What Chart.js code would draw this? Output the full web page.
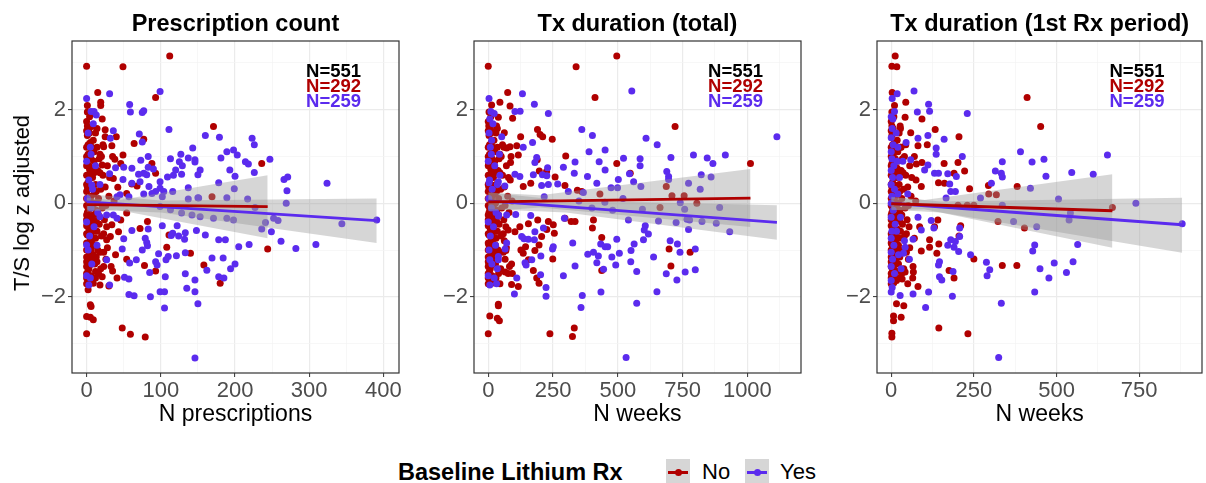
<!DOCTYPE html>
<html>
<head>
<meta charset="utf-8">
<script src="https://cdn.jsdelivr.net/npm/chart.js@4.4.1/dist/chart.umd.min.js"></script>
<style>
  body { margin: 0; background: #fff; width: 1206px; height: 483px; position: relative; overflow: hidden;
         font-family: "Liberation Sans", Arial, sans-serif; }
  canvas { position: absolute; top: 0; }
  .t { position: absolute; white-space: nowrap; transform: translate(-50%, -50%); color: #000; }
  .title { font-weight: bold; font-size: 23.5px; top: 23px; }
  .xt { font-size: 23px; top: 413px; }
  .yt { font-size: 22px; left: 22px; top: 203px; transform: translate(-50%, -50%) rotate(-90deg); }
  .lg { position: absolute; font-size: 22px; top: 472px; transform: translateY(-50%); white-space: nowrap; }
  .key { position: absolute; top: 459px; width: 24px; height: 26px; background: #d6d6d6; }
  .key i { position: absolute; left: 2px; right: 2px; top: 11.5px; height: 3px; }
  .key b { position: absolute; left: 8.5px; top: 9.5px; width: 7px; height: 7px; border-radius: 50%; }
</style>
</head>
<body>
<canvas id="c1" width="405" height="430" style="left:0px"></canvas>
<canvas id="c2" width="386" height="430" style="left:420px"></canvas>
<canvas id="c3" width="383" height="430" style="left:823px"></canvas>

<div class="t title" style="left:235.5px">Prescription count</div>
<div class="t title" style="left:637.4px">Tx duration (total)</div>
<div class="t title" style="left:1039.7px">Tx duration (1st Rx period)</div>
<div class="t yt">T/S log z adjusted</div>
<div class="t xt" style="left:235.5px">N prescriptions</div>
<div class="t xt" style="left:637.4px">N weeks</div>
<div class="t xt" style="left:1039.7px">N weeks</div>

<div class="lg" style="left:398px;font-weight:bold;font-size:23.5px">Baseline Lithium Rx</div>
<div class="key" style="left:666px"><i style="background:#b00000"></i><b style="background:#b00000"></b></div>
<div class="lg" style="left:702px">No</div>
<div class="key" style="left:745px"><i style="background:#5b2bee"></i><b style="background:#5b2bee"></b></div>
<div class="lg" style="left:780px">Yes</div>

<script>
// ---- data: [x, y] pairs, y = T/S log z adjusted ----
// Panel 1: N prescriptions
const p1No = [
  [0,2.93],[49,2.92],[112,3.15],[15,2.37],[19,2.16],[19,2.09],[1,2.09],[93,2.26],[21,1.80],[8,1.92],[7,1.64],
  [25,1.57],[25,1.42],[77,1.37],[64,1.28],[40,1.42],[34,1.23],[171,1.64],[23,1.21],[38,0.94],[49,1.03],[46,0.85],
  [18,1.05],[21,0.82],[36,0.53],[88,0.85],[93,0.64],[68,0.37],[61,0.41],[42,0.34],[54,0.21],[169,0.14],
  [5,-2.17],[6,-2.21],[0,-2.42],[5,-2.44],[9,-2.49],[0,-2.79],[48,-2.67],[59,-2.80],[79,-2.86],[18,-1.75],[3,-1.71],
  [9,-1.71],[30,-1.77],[35,-1.45],[41,-1.60],[54,-1.20],[78,-1.33],[93,-1.45],[108,-0.94],[140,-1.07],[158,-1.32],
  [180,-1.71],[111,-0.68],[72,-0.54],[82,-0.39],[54,-0.21],[46,-0.36],[43,-0.61],[34,-0.46],[27,-0.78],[39,-1.10],
  [23,-1.35],[14,-1.25],[12,-1.46],[21,-1.57],[32,-0.71],[236,0.85],[244,-0.98],
  [0,1.75],[3,1.6],[1,1.45],[5,1.3],[0,1.2],[2,1.05],[6,0.95],[1,0.85],[4,0.72],[0,0.6],[8,0.55],[2,0.45],[5,0.33],
  [0,0.25],[10,0.2],[3,0.1],[7,0.02],[0,-0.05],[4,-0.12],[1,-0.2],[9,-0.25],[2,-0.32],[6,-0.4],[0,-0.48],[3,-0.55],
  [11,-0.6],[1,-0.68],[5,-0.75],[0,-0.85],[8,-0.9],[2,-0.98],[4,-1.08],[0,-1.15],[7,-1.22],[1,-1.3],[3,-1.4],[0,-1.5],
  [6,-1.55],[2,-1.62],[0,-1.72],[12,1.5],[14,1.2],[10,0.9],[15,0.7],[12,0.4],[16,0.1],[13,-0.15],[17,-0.45],[12,-0.75],
  [15,-1.0],[11,-1.3],[16,-1.5],[20,1.0],[22,0.6],[19,0.3],[21,-0.1],[24,-0.35],[20,-0.7],[23,-1.05],[19,-1.4],
  [28,0.8],[27,-0.5],[30,0.15],[26,-1.2],[1,1.95],[4,1.85],[6,1.15],[9,1.35],[7,0.38],[5,-0.28],[9,-0.55],[6,-1.0],
  [4,-1.33],[8,-1.65],[3,0.8],[11,0.0],[14,-0.6],[2,-1.85],[0,1.0],[0,0.4],[0,-0.25],[0,-0.65],[0,-1.0],[0,-1.35],
  [10,1.1],[8,-0.05],[13,-1.15],[17,0.95],
  [1,1.65],[4,1.5],[2,1.25],[7,1.2],[3,1.0],[5,0.6],[1,0.35],[6,0.15],[2,-0.1],[8,-0.35],[3,-0.45],[6,-0.65],
  [1,-0.88],[5,-1.2],[2,-1.45],[4,-1.7],[9,-1.1],[10,0.65],[11,-0.9],[13,0.25],[14,1.6],[16,-0.25],[18,-1.05],
  [18,0.65],[22,1.25],[25,0.35],[23,-0.65],[26,-0.05],[28,-0.95],[31,0.55],[33,-1.35],[35,1.0],[37,0.05],[12,-1.6],
  [9,0.75],[7,-0.78],[13,-0.38],[0,1.55],[0,0.8],[0,0.1],[0,-0.35],[0,-1.25],[0,-1.6]
];
const p1Yes = [
  [0,2.24],[31,2.34],[99,2.39],[58,2.11],[59,1.95],[75,1.94],[77,1.98],[6,1.96],[10,1.96],[13,1.89],[111,1.58],
  [36,1.55],[32,1.39],[71,1.48],[75,1.31],[160,1.45],[179,1.41],[143,1.18],[127,1.05],[137,0.97],[146,0.93],[146,0.88],
  [189,1.10],[181,0.97],[113,0.95],[83,1.00],[73,0.92],[61,0.75],[50,0.77],[39,0.76],[90,0.73],[83,0.77],[125,0.89],
  [129,0.80],[120,0.71],[109,0.56],[99,0.46],[117,0.60],[150,0.61],[153,0.71],[128,0.62],[193,0.71],[178,0.44],
  [199,0.31],[137,0.33],[81,0.61],[77,0.64],[70,0.62],[72,0.46],[61,0.43],[49,0.51],[31,0.63],[7,0.39],[99,0.32],
  [84,0.36],[93,0.25],[104,0.25],[116,0.25],[150,0.12],[88,0.21],[102,0.14],[77,0.20],[45,0.18],[57,0.14],[137,0.09],
  [151,0.11],[189,0.12],[41,0.14],
  [18,-0.29],[27,-0.25],[36,-0.25],[41,-0.32],[61,-0.58],[83,-0.55],[102,-0.48],[122,-0.48],[50,-0.76],[79,-0.75],
  [81,-0.84],[82,-0.91],[75,-1.00],[67,-1.21],[58,-1.28],[48,-0.98],[27,-1.21],[5,-1.60],[31,-1.75],[51,-1.58],
  [57,-1.62],[85,-1.48],[97,-1.08],[93,-1.25],[107,-1.21],[110,-1.14],[95,-1.32],[106,-1.57],[99,-1.89],[105,-1.89],
  [57,-1.95],[64,-1.98],[86,-2.00],[105,-2.24],[114,-0.69],[116,-0.64],[124,-0.70],[133,-0.63],[132,-0.77],[148,-0.58],
  [160,-0.68],[121,-1.12],[133,-1.06],[133,-1.51],[135,-1.82],[146,-1.64],[146,-1.89],[150,-2.15],[162,-1.43],
  [169,-1.17],[178,-0.78],[187,-0.78],[184,-1.17],[178,-1.57],[185,-1.60],[146,-3.31],[99,-0.07],[113,-0.14],
  [128,-0.21],[142,-0.25],[153,-0.29],[171,-0.32],[189,-0.32],[0,-0.89],
  [223,1.39],[226,1.25],[198,1.14],[203,1.03],[214,0.89],[218,0.84],[247,0.94],[226,0.66],[200,0.58],[266,0.51],
  [271,0.56],[270,0.27],[324,0.43],[269,0.00],[217,0.09],[227,-0.09],[344,-0.44],[391,-0.36],[252,-0.32],[258,-0.37],
  [241,-0.41],[236,-0.55],[249,-0.61],[262,-0.81],[282,-0.97],[309,-0.88],[205,-0.93],[219,-0.88],[200,-1.30],
  [194,-1.40],[198,-0.36],
  [2,1.5],[5,1.2],[0,0.9],[3,0.5],[8,0.3],[1,0.1],[6,-0.1],[0,-0.4],[4,-0.7],[10,-0.5],[2,-1.0],[7,-1.3],[0,-1.55],
  [12,0.8],[15,-0.2],[9,1.7],[3,-1.75],[14,-0.9],[18,0.4],[6,1.05]
];

// Panel 2: N weeks (total)
const p2No = [
  [0,2.93],[339,2.92],[496,3.15],[412,2.26],[75,2.37],[45,2.16],[84,2.08],[94,1.82],[13,2.10],[39,1.84],[10,1.55],
  [32,1.65],[62,1.51],[190,1.58],[200,1.47],[210,1.42],[125,1.42],[247,1.37],[299,1.01],[496,0.85],[84,1.21],
  [110,1.23],[71,1.18],[45,1.05],[116,1.03],[86,0.87],[189,0.93],[197,0.69],[225,0.68],[258,0.56],[296,0.38],
  [344,0.28],[164,0.43],[135,0.36],[431,0.20],[361,0.25],[155,-0.44],[191,-0.36],[232,-0.39],[251,-0.46],[226,-0.56],
  [255,-0.64],[206,-0.71],[196,-0.89],[180,-1.01],[144,-0.93],[135,-1.07],[155,-1.21],[174,-1.44],[187,-1.60],
  [196,-1.71],[249,-1.19],[320,-0.39],[335,-0.39],[296,-0.32],[406,-0.36],[402,-0.53],[438,-0.73],[438,-1.44],
  [93,-1.50],[41,-1.42],[65,-1.47],[77,-1.50],[13,-1.71],[45,-1.72],[90,-1.74],[116,-1.78],[39,-2.16],[39,-2.19],
  [6,-2.41],[35,-2.46],[43,-2.51],[0,-2.79],[238,-2.79],[332,-2.67],[325,-2.85],[68,-1.01],[126,-1.00],[103,-0.61],
  [122,-0.50],[77,-0.57],
  [721,1.64],[1012,0.85],[548,0.64],[687,0.36],[709,0.16],[756,0.16],[805,0.00],[663,-0.09],[698,-0.98],[779,-1.05],
  [705,-1.34],
  [0,1.75],[8,1.6],[3,1.45],[12,1.3],[0,1.2],[5,1.05],[15,0.95],[2,0.85],[10,0.72],[0,0.6],[20,0.55],[5,0.45],
  [12,0.33],[0,0.25],[25,0.2],[8,0.1],[18,0.02],[0,-0.05],[10,-0.12],[3,-0.2],[22,-0.25],[5,-0.32],[15,-0.4],
  [0,-0.48],[8,-0.55],[28,-0.6],[3,-0.68],[12,-0.75],[0,-0.85],[20,-0.9],[5,-0.98],[10,-1.08],[0,-1.15],[18,-1.22],
  [3,-1.3],[8,-1.4],[0,-1.5],[15,-1.55],[5,-1.62],[0,-1.72],[30,1.5],[35,1.2],[25,0.9],[38,0.7],[30,0.4],[40,0.1],
  [33,-0.15],[42,-0.45],[30,-0.75],[38,-1.0],[28,-1.3],[40,-1.5],[50,1.0],[55,0.6],[48,0.3],[52,-0.1],[60,-0.35],
  [50,-0.7],[58,-1.05],[48,-1.4],[70,0.8],[68,-0.5],[75,0.15],[65,-1.2],[3,1.95],[10,1.85],[15,1.15],[22,1.35],
  [18,0.38],[12,-0.28],[22,-0.55],[15,-1.0],[10,-1.33],[20,-1.65],[8,0.8],[28,0.0],[35,-0.6],[0,1.0],[0,0.4],
  [0,-0.25],[0,-0.65],[0,-1.0],[0,-1.35],[25,1.1],[20,-0.05],[32,-1.15],[42,0.95],[60,1.2],[62,-0.8],[80,-0.2],
  [85,0.5],[90,-1.3],
  [2,1.65],[10,1.5],[5,1.25],[18,1.2],[8,1.0],[12,0.6],[2,0.35],[15,0.15],[5,-0.1],[20,-0.35],[8,-0.45],[15,-0.65],
  [2,-0.88],[12,-1.2],[5,-1.45],[10,-1.7],[22,-1.1],[25,0.65],[28,-0.9],[32,0.25],[35,1.6],[40,-0.25],[45,-1.05],
  [45,0.65],[55,1.25],[62,0.35],[58,-0.65],[65,-0.05],[70,-0.95],[78,0.55],[82,-1.35],[88,1.0],[92,0.05],[30,-1.6],
  [22,0.75],[18,-0.78],[32,-0.38],[0,1.55],[0,0.8],[0,0.1],[0,-0.35],[0,-1.25],[0,-1.6]
];
const p2Yes = [
  [3,2.24],[132,2.34],[178,2.12],[232,1.92],[10,1.96],[23,1.92],[6,1.80],[103,1.96],[123,1.97],[554,2.40],[361,1.58],
  [402,1.45],[389,1.10],[451,1.14],[522,0.96],[43,1.05],[52,1.42],[13,1.35],[135,1.20],[171,1.30],[187,0.98],
  [180,0.87],[229,0.76],[290,0.77],[335,0.88],[332,0.64],[428,0.89],[451,0.71],[502,0.51],[545,0.63],[383,0.57],
  [419,0.43],[474,0.33],[499,0.33],[174,0.61],[209,0.61],[226,0.59],[268,0.41],[232,0.40],[206,0.38],[122,0.57],
  [103,0.62],[39,0.46],[64,0.37],[309,0.25],[367,0.23],[216,0.14],[39,-0.27],[71,-0.25],[106,-0.24],[164,-0.26],
  [294,-0.32],[213,-0.53],[180,-0.61],[129,-0.71],[138,-0.76],[155,-0.77],[178,-0.78],[71,-0.85],[65,-0.98],
  [39,-1.14],[39,-1.21],[142,-1.27],[146,-1.32],[168,-1.21],[203,-1.13],[251,-0.93],[248,-0.98],[326,-0.85],
  [335,-1.34],[384,-1.09],[406,-1.05],[425,-1.13],[434,-0.87],[451,-0.93],[461,-0.93],[496,-0.77],[506,-1.07],
  [477,-1.15],[419,-1.27],[492,-1.32],[445,-1.41],[551,-1.01],[550,-1.25],[290,-1.55],[202,-1.53],[110,-1.60],
  [23,-1.60],[32,-1.72],[223,-1.80],[223,-1.99],[101,-1.94],[363,-1.97],[435,-1.90],[358,-2.23],[532,-3.30],
  [6,-1.21],[3,0.44],[350,0.05],[400,-0.1],[450,0.02],[480,-0.15],[520,0.1],
  [1114,1.42],[609,1.39],[652,1.25],[705,0.98],[792,1.03],[845,0.97],[867,0.85],[915,1.03],[586,0.95],[586,0.80],
  [689,0.68],[696,0.57],[696,0.51],[822,0.61],[860,0.56],[589,0.36],[561,0.46],[773,0.43],[818,0.30],[893,-0.09],
  [741,0.01],[758,-0.13],[595,-0.13],[541,-0.36],[657,-0.38],[725,-0.41],[767,-0.34],[825,-0.39],[880,-0.43],
  [932,-0.61],[606,-0.48],[602,-0.57],[618,-0.66],[599,-0.78],[563,-0.87],[573,-1.46],[638,-1.15],[702,-0.80],
  [730,-0.87],[740,-1.05],[799,-0.98],[687,-1.51],[728,-1.64],[760,-1.47],[799,-1.42],[651,-1.89],[573,-2.14],
  [773,-0.56],[777,-0.36],
  [3,1.5],[8,1.2],[0,0.9],[5,0.5],[15,0.3],[2,0.1],[12,-0.1],[0,-0.4],[8,-0.7],[20,-0.5],[3,-1.0],[14,-1.3],
  [0,-1.55],[25,0.8],[30,-0.2],[18,1.7],[6,-1.75],[28,-0.9],[35,0.4],[12,1.05],[40,-0.25],[45,0.6],[35,-1.4]
];

// Panel 3: N weeks (1st Rx period)
const p3No = [
  [12,3.15],[2,2.93],[17,2.92],[3,2.37],[44,2.16],[10,2.09],[42,1.84],[93,1.80],[27,1.65],[59,1.51],[133,1.58],
  [205,1.42],[411,2.26],[109,1.25],[81,1.23],[30,1.20],[160,0.85],[202,0.87],[222,0.69],[93,0.87],[76,0.84],
  [190,0.64],[143,0.44],[161,0.43],[91,0.36],[237,0.31],[294,0.38],[318,0.18],[381,0.36],[295,0.20],[230,-0.04],
  [250,-0.04],[202,-0.04],[323,-0.39],[403,-0.53],[205,-0.70],[210,-0.48],[250,-1.19],[336,-1.33],[380,-1.33],
  [175,-1.44],[190,-1.60],[144,-2.67],[232,-2.79],[81,-1.78],[50,-1.72],[33,-1.62],[67,-1.47],[42,-1.47],[15,-1.45],
  [38,-2.19],[16,-2.15],[30,-2.44],[7,-2.41],[7,-2.51],[2,-2.78],[2,-2.86],[91,-1.02],[138,-1.07],[116,-0.94],
  [144,-0.87],[116,-0.78],[86,-0.50],[131,-0.50],[141,-0.36],[452,1.64],[669,-0.09],
  [0,1.75],[6,1.6],[2,1.45],[10,1.3],[0,1.2],[4,1.05],[12,0.95],[2,0.85],[8,0.72],[0,0.6],[16,0.55],[4,0.45],
  [10,0.33],[0,0.25],[20,0.2],[6,0.1],[14,0.02],[0,-0.05],[8,-0.12],[2,-0.2],[18,-0.25],[4,-0.32],[12,-0.4],
  [0,-0.48],[6,-0.55],[22,-0.6],[2,-0.68],[10,-0.75],[0,-0.85],[16,-0.9],[4,-0.98],[8,-1.08],[0,-1.15],[14,-1.22],
  [2,-1.3],[6,-1.4],[0,-1.5],[12,-1.55],[4,-1.62],[0,-1.72],[24,1.5],[28,1.2],[20,0.9],[30,0.7],[24,0.4],[32,0.1],
  [26,-0.15],[34,-0.45],[24,-0.75],[30,-1.0],[22,-1.3],[32,-1.5],[40,1.0],[44,0.6],[38,0.3],[42,-0.1],[48,-0.35],
  [40,-0.7],[46,-1.05],[38,-1.4],[56,0.8],[54,-0.5],[60,0.15],[52,-1.2],[2,1.95],[8,1.85],[12,1.15],[18,1.35],
  [14,0.38],[10,-0.28],[18,-0.55],[12,-1.0],[8,-1.33],[16,-1.65],[6,0.8],[22,0.0],[28,-0.6],[0,1.0],[0,0.4],
  [0,-0.25],[0,-0.65],[0,-1.0],[0,-1.35],[20,1.1],[16,-0.05],[26,-1.15],[34,0.95],[70,-0.75],[75,0.5],[65,-1.6],
  [2,1.65],[8,1.5],[4,1.25],[14,1.2],[6,1.0],[10,0.6],[2,0.35],[12,0.15],[4,-0.1],[16,-0.35],[6,-0.45],[12,-0.65],
  [2,-0.88],[10,-1.2],[4,-1.45],[8,-1.7],[18,-1.1],[20,0.65],[22,-0.9],[26,0.25],[28,1.6],[32,-0.25],[36,-1.05],
  [36,0.65],[44,1.25],[50,0.35],[46,-0.65],[52,-0.05],[56,-0.95],[62,0.55],[66,-1.35],[70,1.0],[74,0.05],[24,-1.6],
  [18,0.75],[14,-0.78],[26,-0.38],[0,1.55],[0,0.8],[0,0.1],[0,-0.35],[0,-1.25],[0,-1.6]
];
const p3Yes = [
  [69,2.40],[3,2.24],[18,2.34],[113,2.12],[116,1.97],[79,1.95],[230,1.92],[5,1.80],[10,1.96],[160,1.37],[111,1.45],
  [81,1.39],[136,1.18],[136,1.05],[215,1.00],[59,0.93],[111,0.82],[101,0.71],[131,0.64],[143,0.64],[171,0.63],
  [197,0.57],[177,0.41],[180,0.25],[194,0.25],[166,0.11],[391,1.10],[426,0.88],[336,0.89],[315,0.69],[333,0.64],
  [336,0.56],[303,0.43],[270,0.11],[336,-0.04],[370,-0.39],[421,0.32],[81,-0.30],[121,-0.37],[129,-0.53],[91,-0.57],
  [66,-0.77],[207,-0.53],[207,-0.71],[194,-0.82],[180,-0.78],[171,-0.90],[190,-0.94],[204,-1.03],[240,-1.10],
  [288,-1.26],[298,-1.42],[290,-1.55],[146,-1.25],[143,-1.32],[146,-1.57],[153,-1.64],[187,-1.46],[113,-1.90],
  [66,-1.94],[27,-1.97],[104,-2.23],[185,-1.99],[333,-2.14],[325,-3.30],[37,-1.07],[42,-0.94],[434,-0.89],
  [428,-1.02],[434,-1.90],
  [462,0.94],[468,0.58],[546,0.66],[611,0.62],[654,1.03],[506,0.09],[740,0.00],[542,-0.21],[538,-0.36],[440,-0.50],
  [564,-0.88],[493,-1.28],[450,-1.40],[550,-1.25],[530,-1.48],[477,-1.60],[880,-0.44],
  [0,1.85],[3,1.6],[0,1.4],[6,1.25],[0,1.1],[2,0.95],[8,0.8],[0,0.7],[4,0.55],[0,0.4],[10,0.3],[2,0.15],[0,0.0],
  [6,-0.15],[0,-0.3],[12,-0.45],[2,-0.6],[0,-0.75],[8,-0.9],[0,-1.05],[4,-1.2],[0,-1.35],[10,-1.5],[0,-1.65],
  [3,-1.8],[0,-1.9],[15,1.5],[18,0.9],[20,0.2],[16,-0.6],[22,-1.1],[25,0.55],[28,-0.3],[20,1.2],[30,-1.4],[35,0.9],
  [40,-0.8],[45,1.3],[50,0.2],[55,-1.2]
];

// linear fits: [x, fitted y] at the ends, confidence band [x, lower, upper]
const p1FitNo = [[0,-0.03],[244,-0.07]];
const p1BandNo = [[0,-0.18,0.12],[40,-0.14,0.06],[244,-0.75,0.60]];
const p1FitYes = [[0,0.03],[391,-0.37]];
const p1BandYes = [[0,-0.14,0.20],[100,-0.20,0.06],[391,-0.85,0.10]];
const p2FitNo = [[0,0.03],[1012,0.11]];
const p2BandNo = [[0,-0.17,0.23],[200,-0.09,0.17],[1012,-0.51,0.73]];
const p2FitYes = [[0,0.05],[1114,-0.41]];
const p2BandYes = [[0,-0.13,0.23],[300,-0.20,0.06],[1114,-0.78,-0.04]];
const p3FitNo = [[0,-0.01],[669,-0.16]];
const p3BandNo = [[0,-0.15,0.13],[100,-0.13,0.07],[669,-0.95,0.62]];
const p3FitYes = [[0,0.00],[880,-0.46]];
const p3BandYes = [[0,-0.14,0.14],[150,-0.20,0.04],[880,-1.06,0.12]];

// axes
const yTicks = [-3, -2, -1, 0, 1, 2, 3];
const yMajorStep = 2;
const p1XTicks = [0, 50, 100, 150, 200, 250, 300, 350, 400];
const p2XTicks = [0, 125, 250, 375, 500, 625, 750, 875, 1000, 1125];
const p3XTicks = [0, 125, 250, 375, 500, 625, 750, 875];
const nLabels = ['N=551', 'N=292', 'N=259'];

const RED = '#b00000';
const BLUE = '#5b2bee';
const BAND = 'rgba(153,153,153,0.4)';

const pts = arr => arr.map(p => ({ x: p[0], y: p[1] }));

function makePanel(id, no, yes, fitNo, bandNo, fitYes, bandYes, xTicks, xMajor, xMin, xMax, yAxisW, padR) {
  const bandSets = (band) => [
    { type: 'line', data: band.map(b => ({ x: b[0], y: b[2] })), fill: '+1', backgroundColor: BAND,
      borderWidth: 0, pointRadius: 0, order: 2 },
    { type: 'line', data: band.map(b => ({ x: b[0], y: b[1] })), fill: false,
      borderWidth: 0, pointRadius: 0, order: 2 }
  ];
  const fitSet = (fit, col) => ({ type: 'line', data: pts(fit), borderColor: col, borderWidth: 2.8,
      pointRadius: 0, fill: false, order: 1 });

  new Chart(document.getElementById(id), {
    type: 'scatter',
    data: {
      datasets: [
        { data: pts(no), backgroundColor: RED, pointRadius: 3.5, borderWidth: 0, order: 4 },
        { data: pts(yes), backgroundColor: BLUE, pointRadius: 3.5, borderWidth: 0, order: 3 },
        ...bandSets(bandNo),
        ...bandSets(bandYes),
        fitSet(fitNo, RED),
        fitSet(fitYes, BLUE)
      ]
    },
    options: {
      responsive: false,
      animation: false,
      devicePixelRatio: 1,
      layout: { padding: { top: 41, right: padR, left: 0, bottom: 0 } },
      plugins: { legend: { display: false }, tooltip: { enabled: false } },
      scales: {
        x: {
          type: 'linear', min: xMin, max: xMax,
          afterBuildTicks: s => { s.ticks = xTicks.map(v => ({ value: v })); },
          afterFit: s => { s.height = 57; },
          border: { display: false },
          grid: {
            color: c => (c.tick && c.tick.value % xMajor === 0) ? '#ebebeb' : '#f3f3f3',
            lineWidth: c => (c.tick && c.tick.value % xMajor === 0) ? 1.2 : 0.7,
            tickColor: c => (c.tick && c.tick.value % xMajor === 0) ? '#333' : 'rgba(0,0,0,0)',
            tickWidth: 1, tickLength: 4
          },
          ticks: {
            autoSkip: false, maxRotation: 0, padding: 1, color: '#4d4d4d',
            font: { family: 'Liberation Sans', size: 22 },
            callback: v => (v % xMajor === 0 ? String(v) : '')
          }
        },
        y: {
          type: 'linear', min: -3.63, max: 3.47,
          afterBuildTicks: s => { s.ticks = yTicks.map(v => ({ value: v })); },
          afterFit: s => { s.width = yAxisW; },
          border: { display: false },
          grid: {
            color: c => (c.tick && c.tick.value % yMajorStep === 0) ? '#ebebeb' : '#f3f3f3',
            lineWidth: c => (c.tick && c.tick.value % yMajorStep === 0) ? 1.2 : 0.7,
            tickColor: c => (c.tick && c.tick.value % yMajorStep === 0) ? '#333' : 'rgba(0,0,0,0)',
            tickWidth: 1, tickLength: 4
          },
          ticks: {
            autoSkip: false, padding: 2, color: '#4d4d4d',
            font: { family: 'Liberation Sans', size: 22 },
            callback: v => (v % yMajorStep === 0 ? String(v).replace('-', '\u2212') : '')
          }
        }
      }
    },
    plugins: [{
      id: 'frameAndN',
      afterDraw(chart) {
        const { ctx, chartArea: a } = chart;
        ctx.save();
        ctx.strokeStyle = '#333';
        ctx.lineWidth = 1.2;
        ctx.strokeRect(a.left, a.top, a.right - a.left, a.bottom - a.top);
        ctx.font = 'bold 18.5px "Liberation Sans"';
        ctx.textAlign = 'center';
        ctx.textBaseline = 'middle';
        const cx = a.left + 0.80 * (a.right - a.left);
        [ '#000', RED, BLUE ].forEach((col, i) => {
          ctx.fillStyle = col;
          ctx.fillText(nLabels[i], cx, a.top + 31 + i * 15);
        });
        ctx.restore();
      }
    }]
  });
}

makePanel('c1', p1No, p1Yes, p1FitNo, p1BandNo, p1FitYes, p1BandYes, p1XTicks, 100, -19.7, 421, 72, 6);
makePanel('c2', p2No, p2Yes, p2FitNo, p2BandNo, p2FitYes, p2BandYes, p2XTicks, 250, -55, 1207, 54, 5);
makePanel('c3', p3No, p3Yes, p3FitNo, p3BandNo, p3FitYes, p3BandYes, p3XTicks, 250, -43, 940, 54, 4);
</script>
</body>
</html>
